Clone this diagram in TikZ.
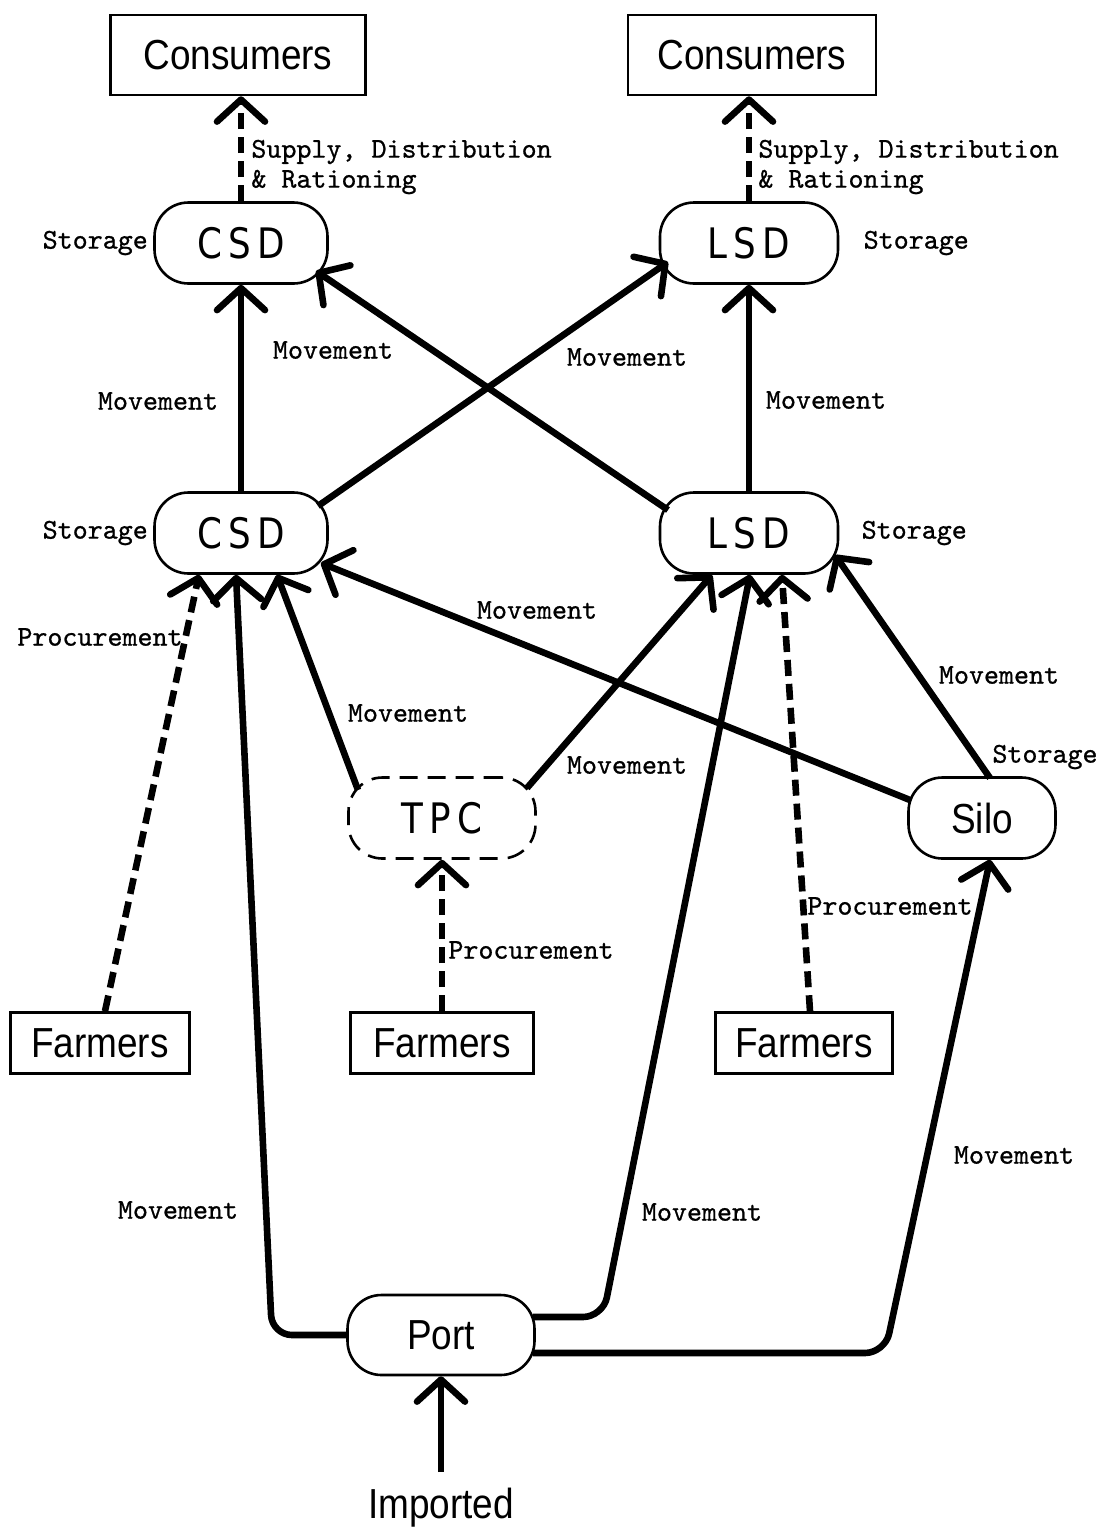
\documentclass[tikz,border=0pt]{standalone}
\usepackage{fontspec}
\usepackage{tikz}
\usetikzlibrary{arrows.meta, positioning, calc}
\newfontfamily\boxfont[FakeStretch=0.88]{Liberation Sans}
\newfontfamily\unitfont[FakeStretch=0.85, LetterSpace=15]{DejaVu Sans}
\newfontfamily\notefont[FakeBold=0.8]{lmmono10-regular.otf}

\begin{document}
\begin{tikzpicture}[
    x=0.5pt, y=-0.5pt,
    box/.style={draw, line width=1.3pt, minimum height=40pt, inner sep=2pt, font=\boxfont\fontsize{21}{24}\selectfont, fill=white},
    unit/.style={draw, rectangle, rounded corners=17pt, line width=1.3pt, minimum width=86.5pt, minimum height=40.5pt, font=\unitfont\fontsize{21}{24}\selectfont, fill=white},
    move/.style={line width=3.3pt, -{Straight Barb[length=11pt, width=24pt, round]}},
    supply/.style={move, dash pattern=on 8pt off 4pt},
    note/.style={font=\notefont\fontsize{14.3}{15}\selectfont, inner sep=1pt, align=left}
]
\useasboundingbox (0,0) rectangle (1107,1538);

% Entities
\node[box, minimum width=127.5pt] (consL) at (238,55) {Consumers};
\node[box, minimum width=124pt] (consR) at (752,55) {Consumers};
\node[unit] (csdtop) at (241,243) {CSD};
\node[unit, minimum width=89pt] (lsdtop) at (749,243) {LSD};
\node[unit] (csdmid) at (241,533) {CSD};
\node[unit, minimum width=89pt] (lsdmid) at (749,533) {LSD};
\node[unit, dash pattern=on 9pt off 5pt, minimum width=93.5pt] (tpc) at (442,818) {TPC};
\node[unit, font=\boxfont\fontsize{21}{24}\selectfont, minimum width=73.5pt] (silo) at (982,818) {Silo};
\node[box, minimum width=89.5pt, minimum height=30.5pt] (farmL) at (100,1043) {Farmers};
\node[box, minimum width=91.5pt, minimum height=30.5pt] (farmM) at (442,1043) {Farmers};
\node[box, minimum width=88.5pt, minimum height=30.5pt] (farmR) at (804,1043) {Farmers};
\node[unit, font=\boxfont\fontsize{21}{24}\selectfont, minimum width=93.5pt, minimum height=40pt] (port) at (441,1335) {Port};
\node[font=\boxfont\fontsize{21}{24}\selectfont, inner sep=8pt] (imp) at (441,1508) {Imported};

% Bends of the port lines
\coordinate (bendL) at (272,1335);
\coordinate (bendM) at (603,1317);
\coordinate (bendR) at (885,1353);

% Supply to consumers
\draw[supply] (csdtop.north) -- (csdtop.north |- consL.south);
\draw[supply] (lsdtop.north) -- (lsdtop.north |- consR.south);
\node[note, anchor=west] at (249,167) {Supply, Distribution\\\& Rationing};
\node[note, anchor=west] at (756,167) {Supply, Distribution\\\& Rationing};

% Movement between the depots
\draw[move] (csdmid) -- (csdtop);
\draw[move] (lsdmid) -- (lsdtop);
\draw[move] ($(csdmid)+(77,-27)$) -- ($(lsdtop)+(-81,19)$);
\draw[move] ($(lsdmid)+(-81,-23)$) -- ($(csdtop)+(75,28)$);
\node[note] at (158,401) {Movement};
\node[note] at (826,400) {Movement};
\node[note] at (333,350) {Movement};
\node[note] at (627,357) {Movement};

% Silo and TPC
\draw[move] ($(silo)+(-72,-18)$) -- ($(csdmid)+(80,30)$);
\draw[move] ($(silo)+(8,-40)$) -- ($(lsdmid)+(86,22)$);
\draw[move] ($(tpc)+(-84,-28)$) -- ($(csdmid.south)+(36,0)$);
\draw[move] ($(tpc)+(85,-30)$) -- ($(lsdmid.south)+(-37,0)$);
\node[note] at (537,610) {Movement};
\node[note] at (999,675) {Movement};
\node[note] at (408,713) {Movement};
\node[note] at (627,765) {Movement};

% Procurement from farmers
\draw[supply] ($(farmL.north)+(5,0)$) -- ($(csdmid.south)+(-42,0)$);
\draw[supply] (farmM.north) -- (tpc.south);
\draw[supply] ($(farmR.north)+(6,0)$) -- ($(lsdmid.south)+(33,0)$);
\node[note] at (100,637) {Procurement};
\node[note] at (531,950) {Procurement};
\node[note] at (890,906) {Procurement};

% Storage notes
\node[note, left=1.5pt of csdtop] {Storage};
\node[note, right=11pt of lsdtop] {Storage};
\node[note, left=1.5pt of csdmid] {Storage};
\node[note, right=10pt of lsdmid] {Storage};
\node[note] at (1045,757) {Storage};

% Imports through the port
\draw[move, rounded corners=10pt] (port.west) -- (bendL) -- ($(csdmid.south)+(-5,0)$);
\draw[move, rounded corners=10pt] ($(port)+(92,-18)$) -- (bendM) -- ($(lsdmid.south)+(1,0)$);
\draw[move, rounded corners=10pt] ($(port)+(92,18)$) -- (bendR) -- ($(silo.south)+(8,0)$);
\draw[move] (imp) -- (port);
\node[note] at (178,1210) {Movement};
\node[note] at (702,1212) {Movement};
\node[note] at (1014,1155) {Movement};

\end{tikzpicture}
\end{document}
